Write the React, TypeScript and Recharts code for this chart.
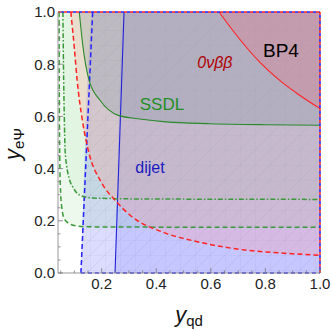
import { ComposedChart, Area, Line, XAxis, YAxis, ReferenceLine, ReferenceDot } from 'recharts';

// curves (x = y_qd, y = y_eΨ)
const redSolidX = [0.63, 0.68, 0.73, 0.78, 0.85, 0.92, 1.0];
const redSolidY = [1.0, 0.93, 0.865, 0.807, 0.74, 0.685, 0.63];

const redDashX = [0.087, 0.1, 0.11, 0.13, 0.151, 0.2, 0.249, 0.3, 0.436, 0.55, 0.681, 0.85, 1.0];
const redDashY = [1.0, 0.86, 0.74, 0.58, 0.47, 0.345, 0.279, 0.225, 0.152, 0.12, 0.094, 0.077, 0.068];

const greenSolidX = [0.118, 0.13, 0.154, 0.194, 0.261, 0.34, 0.436, 0.6, 0.8, 1.0];
const greenSolidY = [1.0, 0.88, 0.738, 0.662, 0.604, 0.59, 0.579, 0.572, 0.568, 0.566];

const greenDashX = [0.044, 0.045, 0.047, 0.05, 0.054, 0.06, 0.07, 0.085, 0.11, 0.15, 0.3, 1.0];
const greenDashY = [1.0, 0.6, 0.4, 0.3, 0.25, 0.215, 0.198, 0.187, 0.18, 0.177, 0.176, 0.175];

const greenDotX = [0.058, 0.06, 0.063, 0.066, 0.072, 0.08, 0.095, 0.12, 0.16, 0.3, 1.0];
const greenDotY = [1.0, 0.8, 0.6, 0.47, 0.408, 0.365, 0.328, 0.298, 0.288, 0.284, 0.282];

const blueDashX = [0.124, 0.167];
const blueDashY = [0.0, 1.0];

const blueSolidX = [0.249, 0.282];
const blueSolidY = [0.0, 1.0];

const xTicks = [0.05, 0.1, 0.15, 0.2, 0.25, 0.3, 0.35, 0.4, 0.45, 0.5, 0.55, 0.6, 0.65, 0.7, 0.75, 0.8, 0.85, 0.9, 0.95, 1.0];
const yTicks = [0, 0.05, 0.1, 0.15, 0.2, 0.25, 0.3, 0.35, 0.4, 0.45, 0.5, 0.55, 0.6, 0.65, 0.7, 0.75, 0.8, 0.85, 0.9, 0.95, 1.0];

const pts = (xs: number[], ys: number[]) => xs.map((x, i) => ({ x, y: ys[i] }));
const above = (xs: number[], ys: number[]) => xs.map((x, i) => ({ x, range: [ys[i], 1] }));
const rightOf = (xs: number[], ys: number[]) => [...xs.map((x, i) => ({ x, range: [0, ys[i]] })), { x: 1, range: [0, 1] }];

const FONT = '"Liberation Sans", Arial, Helvetica, sans-serif';
const isMajor = (v: number) => Math.abs(v * 5 - Math.round(v * 5)) < 1e-6;

const BottomTick = ({ x, y, payload }: any) => {
  const major = isMajor(payload.value);
  return (
    <g>
      <line x1={x} x2={x} y1={y} y2={y - (major ? 5 : 2.5)} stroke="#777" strokeWidth={0.8} />
      {major && (
        <text x={x} y={y + 16} textAnchor="middle" fontSize={15} fontFamily={FONT} fill="#222">
          {payload.value.toFixed(1)}
        </text>
      )}
    </g>
  );
};

const LeftTick = ({ x, y, payload }: any) => {
  const major = isMajor(payload.value);
  return (
    <g>
      <line x1={x} x2={x + (major ? 5 : 2.5)} y1={y} y2={y} stroke="#777" strokeWidth={0.8} />
      {major && (
        <text x={x - 3} y={y} dy="0.36em" textAnchor="end" fontSize={15} fontFamily={FONT} fill="#222">
          {payload.value.toFixed(1)}
        </text>
      )}
    </g>
  );
};

const TopTick = ({ x, y, payload }: any) => (
  <line x1={x} x2={x} y1={y} y2={y + (isMajor(payload.value) ? 5 : 2.5)} stroke="#777" strokeWidth={0.8} />
);

const RightTick = ({ x, y, payload }: any) => (
  <line x1={x} x2={x - (isMajor(payload.value) ? 5 : 2.5)} y1={y} y2={y} stroke="#777" strokeWidth={0.8} />
);

const note = (text: string, color: string, size: number, italic = false) => ({
  content: (p: any) => (
    <text
      x={p.viewBox.x}
      y={p.viewBox.y}
      textAnchor="middle"
      fontSize={size}
      fontStyle={italic ? 'italic' : 'normal'}
      fontFamily={FONT}
      fill={color}
    >
      {text}
    </text>
  ),
});

const areaProps = { type: 'monotone' as const, dataKey: 'range', stroke: 'none', isAnimationActive: false, dot: false, activeDot: false };
const lineProps = { type: 'monotone' as const, dataKey: 'y', dot: false, activeDot: false, isAnimationActive: false };

export default function App() {
  return (
    <div style={{ position: 'absolute', left: 0, top: 0 }}>
      <ComposedChart width={332} height={331} margin={{ top: 12, right: 12, bottom: 0, left: 0 }}>
        <defs>
          <pattern id="mesh" patternUnits="userSpaceOnUse" width={15} height={15}>
            <path d="M0 0V15M0 0H15M0 15L15 0" stroke="#5a5a8a" strokeOpacity={0.25} strokeWidth={0.7} fill="none" />
          </pattern>
        </defs>

        <Area {...areaProps} data={rightOf(blueDashX, blueDashY)} fill="#7474ff" fillOpacity={0.25} />
        <Area {...areaProps} data={rightOf(blueDashX, blueDashY)} fill="url(#mesh)" />
        <Area {...areaProps} data={rightOf(blueSolidX, blueSolidY)} fill="#6a6aff" fillOpacity={0.18} />
        <Area {...areaProps} data={above(greenDashX, greenDashY)} fill="#5cc05c" fillOpacity={0.1} />
        <Area {...areaProps} data={above(greenDotX, greenDotY)} fill="#5cc05c" fillOpacity={0.08} />
        <Area {...areaProps} data={above(redDashX, redDashY)} fill="#ff9690" fillOpacity={0.25} />
        <Area {...areaProps} data={above(greenSolidX, greenSolidY)} fill="#7c94a0" fillOpacity={0.25} />
        <Area {...areaProps} data={above(redSolidX, redSolidY)} fill="#f06a7d" fillOpacity={0.27} />

        <Line {...lineProps} type="linear" data={pts(blueDashX, blueDashY)} stroke="#2222ff" strokeWidth={1.5} strokeDasharray="5 3" />
        <Line {...lineProps} type="linear" data={pts(blueSolidX, blueSolidY)} stroke="#2222dd" strokeWidth={1.1} />
        <Line {...lineProps} data={pts(greenDashX, greenDashY)} stroke="#3a9a3a" strokeWidth={1.5} strokeDasharray="5 3" />
        <Line {...lineProps} data={pts(greenDotX, greenDotY)} stroke="#3a9a3a" strokeWidth={1.5} strokeDasharray="5 2 1.5 2" />
        <Line {...lineProps} data={pts(redDashX, redDashY)} stroke="#ff2222" strokeWidth={1.5} strokeDasharray="5 3" />
        <Line {...lineProps} data={pts(greenSolidX, greenSolidY)} stroke="#2a8a2a" strokeWidth={1.1} />
        <Line {...lineProps} data={pts(redSolidX, redSolidY)} stroke="#ff2222" strokeWidth={1.1} />

        <ReferenceLine y={1} stroke="#ff2222" strokeWidth={1.5} strokeDasharray="3 3" />
        <ReferenceLine y={1} stroke="#2222ff" strokeWidth={1.5} strokeDasharray="3 3" strokeDashoffset={3} />
        <ReferenceLine x={1} stroke="#ff2222" strokeWidth={1.5} strokeDasharray="3 3" />
        <ReferenceLine x={1} stroke="#2222ff" strokeWidth={1.5} strokeDasharray="3 3" strokeDashoffset={3} />
        <ReferenceLine segment={[{ x: blueDashX[0], y: 0 }, { x: 1, y: 0 }]} stroke="#2222ff" strokeWidth={1.5} strokeDasharray="4 3" />

        <ReferenceDot x={0.857} y={0.826} r={0} fill="none" stroke="none" label={note('BP4', '#000', 19)} />
        <ReferenceDot x={0.615} y={0.784} r={0} fill="none" stroke="none" label={note('0νββ', '#b00000', 16, true)} />
        <ReferenceDot x={0.421} y={0.623} r={0} fill="none" stroke="none" label={note('SSDL', '#1f8f1f', 17)} />
        <ReferenceDot x={0.377} y={0.382} r={0} fill="none" stroke="none" label={note('dijet', '#1a1ac0', 16)} />

        <XAxis
          xAxisId="top"
          orientation="top"
          type="number"
          domain={[0.04, 1]}
          allowDataOverflow
          ticks={xTicks}
          interval={0}
          height={0}
          tickSize={0}
          tickMargin={0}
          axisLine={false}
          tick={<TopTick />}
        />
        <YAxis
          yAxisId="right"
          orientation="right"
          type="number"
          domain={[0, 1]}
          ticks={yTicks}
          interval={0}
          width={0}
          tickSize={0}
          tickMargin={0}
          axisLine={false}
          tick={<RightTick />}
        />
        <XAxis
          dataKey="x"
          type="number"
          domain={[0.04, 1]}
          allowDataOverflow
          ticks={xTicks}
          interval={0}
          height={58}
          tickSize={0}
          tickMargin={0}
          axisLine={{ stroke: '#999', strokeWidth: 1 }}
          tick={<BottomTick />}
          label={{
            content: (p: any) => (
              <text x={p.viewBox.x + p.viewBox.width / 2} y={322} textAnchor="middle" fontFamily={FONT} fill="#111">
                <tspan fontStyle="italic" fontSize={22}>y</tspan>
                <tspan fontSize={15} dy={4}>qd</tspan>
              </text>
            ),
          }}
        />
        <YAxis
          type="number"
          domain={[0, 1]}
          ticks={yTicks}
          interval={0}
          width={58}
          tickSize={0}
          tickMargin={0}
          axisLine={{ stroke: '#999', strokeWidth: 1 }}
          tick={<LeftTick />}
          label={{
            content: () => (
              <text x={20} y={144} transform="rotate(-90 20 144)" textAnchor="middle" fontFamily={FONT} fill="#111">
                <tspan fontStyle="italic" fontSize={22}>y</tspan>
                <tspan fontSize={15} dy={4}>eΨ</tspan>
              </text>
            ),
          }}
        />
      </ComposedChart>
    </div>
  );
}
